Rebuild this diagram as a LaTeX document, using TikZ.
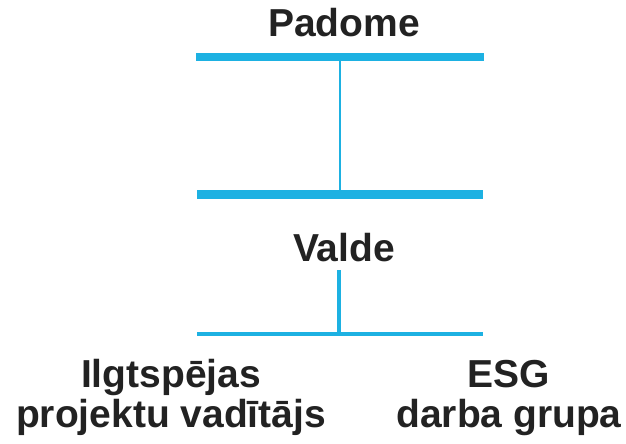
\documentclass[tikz,border=0pt]{standalone}
\usepackage{fontspec}
\setmainfont{Liberation Sans}
\definecolor{barblue}{RGB}{29,177,226}
\definecolor{txt}{RGB}{34,34,34}
\tikzset{
  lbl/.style={inner sep=0pt, outer sep=0pt, anchor=base, align=center, text=txt,
    font=\fontsize{39}{40}\selectfont\bfseries},
  bar/.style={draw=barblue, line cap=butt},
}
\begin{document}
\begin{tikzpicture}[x=1pt,y=-1pt]
\useasboundingbox (0,0) rectangle (626,444);
\node[lbl] (padome) at (344,37) {Padome};
\node[lbl] (valde) at (344,261) {Valde};
\node[lbl] (ilg) at (171,427) {Ilgtspējas\\projektu vadītājs};
\node[lbl] (esg) at (509,427) {ESG\\darba grupa};
\coordinate (t1) at (196,57);
\coordinate (t2) at (484,57);
\coordinate (m1) at (197,194);
\coordinate (m2) at (483,194);
\coordinate (b1) at (197,334);
\coordinate (b2) at (483,334);
\coordinate (tc) at (340,57);
\coordinate (mc) at (340,194);
\coordinate (vc) at (339,270);
\coordinate (bc) at (339,334);
\draw[bar, line width=8pt] (t1) -- (t2);
\draw[bar, line width=9pt] (m1) -- (m2);
\draw[bar, line width=4pt] (b1) -- (b2);
\draw[bar, line width=2.5pt] (tc) -- (mc);
\draw[bar, line width=4pt] (vc) -- (bc);
\end{tikzpicture}
\end{document}
